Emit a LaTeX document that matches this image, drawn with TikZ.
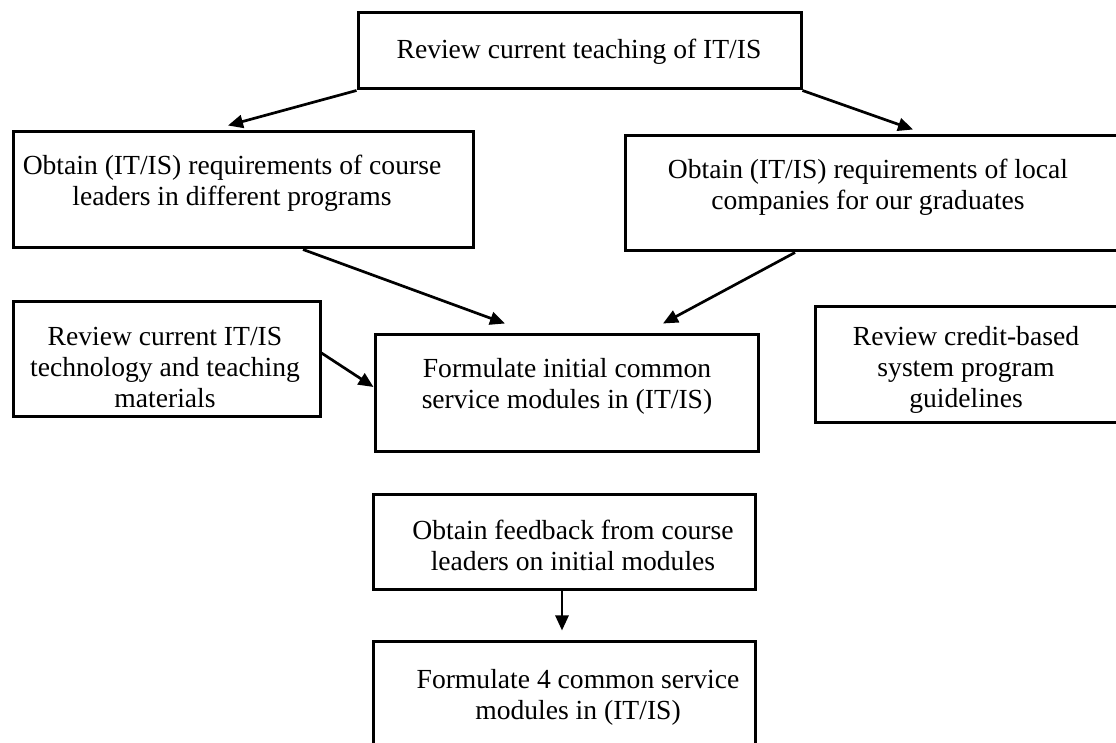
\documentclass[tikz,border=0pt]{standalone}
\usepackage{fontspec}
\setmainfont{Liberation Serif}
\usetikzlibrary{arrows.meta,calc}

\begin{document}
\begin{tikzpicture}[
  x=0.5pt, y=-0.5pt,
  stepbox/.style={draw=black, line width=1.5pt, inner sep=0pt, fill=none},
  label/.style={align=center, inner sep=0pt,
    font=\fontsize{13.8pt}{15.5pt}\selectfont},
  flow/.style={line width=1.35pt, -{Triangle[length=7.5pt,width=6.5pt]}}
]
\useasboundingbox (0,0) rectangle (1116,743);
\clip (0,0) rectangle (1116,743);

% boxes (centre, width, height in pixel units of 0.5pt)
\node[stepbox, minimum width=221.5pt, minimum height=38pt]   (b1) at (579.5,51)   {};
\node[stepbox, minimum width=230pt,   minimum height=58pt]   (b2) at (243,190)    {};
\node[stepbox, minimum width=252.5pt, minimum height=57.5pt] (b3) at (877.5,193.5){};
\node[stepbox, minimum width=153.5pt, minimum height=57.5pt] (b4) at (166.5,359.5){};
\node[stepbox, minimum width=191.5pt, minimum height=58.5pt] (b5) at (566.5,393.5){};
\node[stepbox, minimum width=157.5pt, minimum height=58pt]   (b6) at (972.5,365)  {};
\node[stepbox, minimum width=191pt,   minimum height=47.5pt] (b7) at (564,542.5)  {};
\node[stepbox, minimum width=191pt,   minimum height=59pt]   (b8) at (564,701)    {};

% box texts
\node[label] (t1) at (579,52)  {Review current teaching of IT/IS};
\node[label] (t2) at (232,183) {Obtain (IT/IS) requirements of course\\leaders in different programs};
\node[label] (t3) at (868,187) {Obtain (IT/IS) requirements of local\\companies for our graduates};
\node[label] (t4) at (165,367) {Review current IT/IS\\technology and teaching\\materials};
\node[label] (t5) at (567,386) {Formulate initial common\\service modules in (IT/IS)};
\node[label] (t6) at (966,370) {Review credit-based\\system program\\guidelines};
\node[label] (t7) at (573,545) {Obtain feedback from course\\leaders on initial modules};
\node[label] (t8) at (578,697) {Formulate 4 common service\\modules in (IT/IS)};

% connectors
\draw[flow] (b1.south west) -- ($(b2.north)+(-15,-5)$);
\draw[flow] (b1.south east) -- ($(b3.north)+(35.5,-5)$);
\draw[flow] ($(b2.south)+(60,0)$) -- ($(b5.north)+(-61.5,-10)$);
\draw[flow] ($(b3.south)+(-82.5,0)$) -- ($(b5.north)+(96.5,-10)$);
\draw[flow] ($(b4.east)+(0,-6.5)$) -- ($(b5.west)+(0,-6.5)$);
\draw[flow] ($(b7.south)+(-2,0)$) -- ($(b8.north)+(-2,-10)$);
\end{tikzpicture}
\end{document}
